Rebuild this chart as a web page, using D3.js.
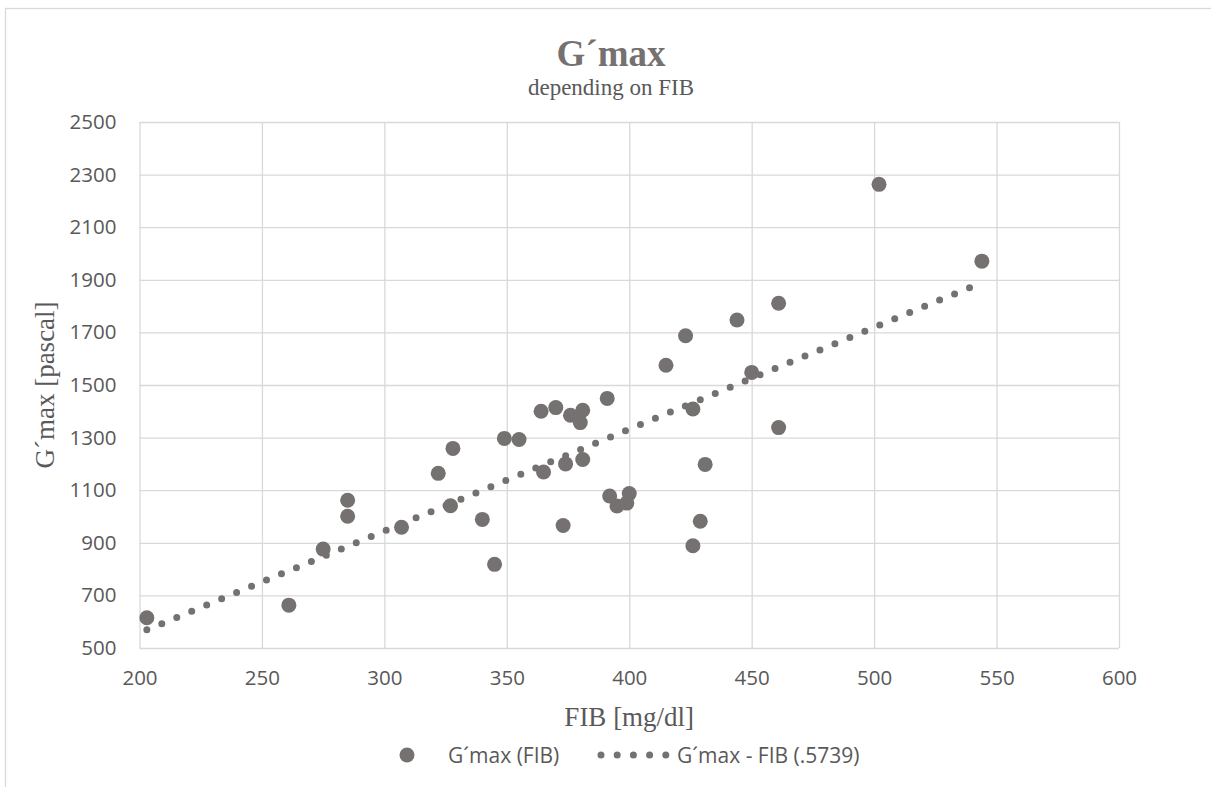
<!DOCTYPE html>
<html>
<head>
<meta charset="utf-8">
<script src="https://cdn.jsdelivr.net/npm/d3@7"></script>
<style>
  html, body { margin: 0; padding: 0; background: #fff; }
  svg { display: block; }
</style>
</head>
<body>
<svg id="chart" width="1211" height="787"></svg>
<script>
// ---- Data ----
const fibValues = [203, 261, 275, 285, 285, 307, 322, 327, 328, 340, 345, 349, 355, 364, 365, 370, 373, 374, 376, 380, 381, 381, 391, 392, 395, 399, 400, 415, 423, 426, 426, 429, 431, 444, 450, 461, 461, 502, 544];
const gmaxValues = [615, 663, 876, 1062, 1001, 959, 1164, 1041, 1259, 989, 818, 1297, 1293, 1400, 1169, 1414, 966, 1200, 1385, 1357, 1404, 1217, 1449, 1078, 1040, 1051, 1087, 1575, 1687, 1409, 889, 982, 1198, 1747, 1548, 1811, 1338, 2263, 1971];
const trendFib = [203, 541];
const trendGmax = [569, 1878];
const xTicks = [200, 250, 300, 350, 400, 450, 500, 550, 600];
const yTicks = [500, 700, 900, 1100, 1300, 1500, 1700, 1900, 2100, 2300, 2500];
const titleText = "G´max";
const subtitleText = "depending on FIB";
const xTitle = "FIB [mg/dl]";
const yTitle = "G´max [pascal]";
const seriesName = "G´max (FIB)";
const trendName = "G´max - FIB (.5739)";

// ---- Layout ----
const W = 1211, H = 787;
const plot = { left: 139.5, right: 1119, top: 122, bottom: 648 };
const markColor = "#767171";
const textColor = "#595959";
const gridColor = "#d9d9d9";
const sans = "'Open Sans', sans-serif";
const serif = "'Liberation Serif', 'Times New Roman', serif";

const svg = d3.select("#chart");

// chart border
svg.append("rect")
  .attr("x", 5.5).attr("y", 8.5)
  .attr("width", W + 20).attr("height", H + 20)
  .attr("fill", "#fff").attr("stroke", gridColor).attr("stroke-width", 1.3);

const x = d3.scaleLinear().domain([200, 600]).range([plot.left, plot.right]);
const y = d3.scaleLinear().domain([500, 2500]).range([plot.bottom, plot.top]);

// gridlines + axes
const gx = svg.append("g")
  .attr("transform", `translate(0,${plot.bottom})`)
  .call(d3.axisBottom(x).tickValues(xTicks).tickSize(-(plot.bottom - plot.top)).tickPadding(22).tickFormat(d3.format("d")));
const gy = svg.append("g")
  .attr("transform", `translate(${plot.left},0)`)
  .call(d3.axisLeft(y).tickValues(yTicks).tickSize(-(plot.right - plot.left)).tickPadding(23).tickFormat(d3.format("d")));

[gx, gy].forEach(g => {
  g.select(".domain").remove();
  g.selectAll(".tick line").attr("stroke", gridColor).attr("stroke-width", 1.3);
  g.selectAll(".tick text").attr("fill", textColor).style("font-family", sans).style("font-size", "20.5px");
});

// trendline (dotted)
const line = d3.line().x(d => x(d[0])).y(d => y(d[1]));
svg.append("path")
  .datum(trendFib.map((v, i) => [v, trendGmax[i]]))
  .attr("d", line)
  .attr("fill", "none")
  .attr("stroke", markColor)
  .attr("stroke-width", 7)
  .attr("stroke-linecap", "round")
  .attr("stroke-dasharray", "0 16.2");

// scatter
svg.append("g").selectAll("circle")
  .data(fibValues.map((v, i) => [v, gmaxValues[i]]))
  .join("circle")
  .attr("cx", d => x(d[0]))
  .attr("cy", d => y(d[1]))
  .attr("r", 7.5)
  .attr("fill", markColor);

// titles
svg.append("text")
  .attr("x", 611).attr("y", 66)
  .attr("text-anchor", "middle")
  .attr("fill", markColor)
  .style("font-family", serif).style("font-weight", "bold").style("font-size", "37px")
  .text(titleText);
svg.append("text")
  .attr("x", 611).attr("y", 95)
  .attr("text-anchor", "middle")
  .attr("fill", textColor)
  .style("font-family", serif).style("font-size", "23px")
  .text(subtitleText);

svg.append("text")
  .attr("x", (plot.left + plot.right) / 2).attr("y", 726)
  .attr("text-anchor", "middle")
  .attr("fill", textColor)
  .style("font-family", serif).style("font-size", "27px")
  .text(xTitle);

svg.append("text")
  .attr("transform", `translate(54,${(plot.top + plot.bottom) / 2}) rotate(-90)`)
  .attr("text-anchor", "middle")
  .attr("fill", textColor)
  .style("font-family", serif).style("font-size", "27px")
  .text(yTitle);

// legend
const lg = svg.append("g");
lg.append("circle").attr("cx", 407).attr("cy", 755).attr("r", 7.5).attr("fill", markColor);
lg.append("text").attr("x", 448).attr("y", 762.5)
  .attr("fill", textColor).style("font-family", sans).style("font-size", "21px")
  .text(seriesName);
lg.append("line")
  .attr("x1", 601).attr("x2", 666).attr("y1", 755).attr("y2", 755)
  .attr("stroke", markColor).attr("stroke-width", 7)
  .attr("stroke-linecap", "round").attr("stroke-dasharray", "0 16.2");
lg.append("text").attr("x", 677).attr("y", 762.5)
  .attr("fill", textColor).style("font-family", sans).style("font-size", "21px")
  .text(trendName);
</script>
</body>
</html>
